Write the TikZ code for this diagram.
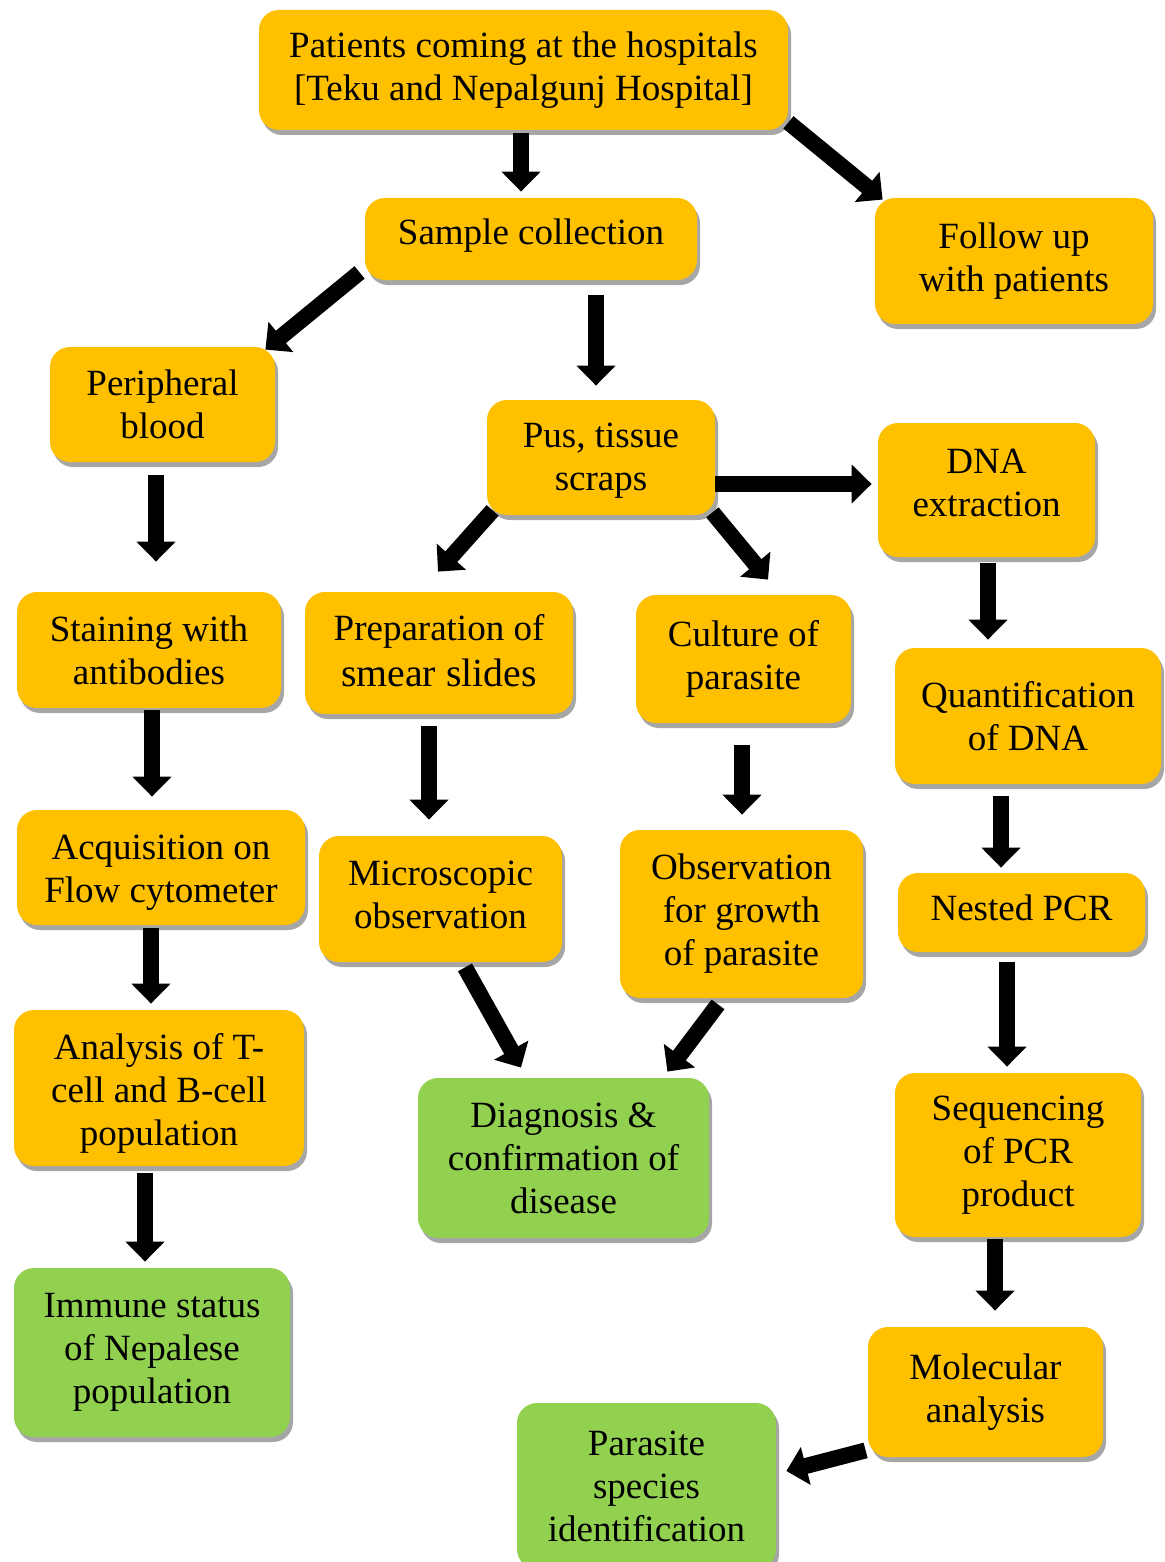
\documentclass[tikz,border=0pt]{standalone}
\usepackage{fontspec}
\setmainfont{Liberation Serif}
\usetikzlibrary{arrows.meta,shadows}
\definecolor{boxorange}{HTML}{FFC000}
\definecolor{boxgreen}{HTML}{92D050}
\definecolor{shadowgray}{HTML}{A6A6A6}
\newcommand\tup[1]{\rule[-#1]{0pt}{#1}}
\newcommand\tdown[1]{\rule{0pt}{#1}}
\tikzset{
  box/.style 2 args={rounded corners=10pt, inner sep=0pt, align=center,
    minimum width=#1*0.5pt, minimum height=#2*0.5pt,
    font=\fontsize{18.5}{21.5}\selectfont,
    drop shadow={shadow xshift=1.5pt, shadow yshift=-2.5pt, fill=shadowgray, opacity=1}},
  obox/.style 2 args={box={#1}{#2}, fill=boxorange},
  gbox/.style 2 args={box={#1}{#2}, fill=boxgreen},
  arr/.style={line width=8pt, -{Triangle[length=10pt,width=19pt]}}
}
\begin{document}
\begin{tikzpicture}[x=0.5pt,y=-0.5pt]
\useasboundingbox (0,0) rectangle (1164,1562);
\node[obox={529}{120}] (top) at (523.5,70) {Patients coming at the hospitals\\{}[Teku and Nepalgunj Hospital]};
\node[obox={332}{82}] (sample) at (531,239) {Sample collection\tup{7pt}};
\node[obox={278}{126}] (follow) at (1014,261) {Follow up\\with patients};
\node[obox={225}{115}] (periph) at (162.5,404.5) {Peripheral\\blood};
\node[obox={228}{115}] (pus) at (601,457.5) {\tdown{15.5pt}Pus, tissue\\scraps};
\node[obox={217}{134}] (dna) at (986.5,490) {DNA\\extraction\tup{7pt}};
\node[obox={264}{116}] (stain) at (149,650) {Staining with\\antibodies};
\node[obox={268}{122}] (smear) at (439,653) {Preparation of\\[1.5pt]{\fontsize{19.9}{21.5}\selectfont smear slides}\tup{3pt}};
\node[obox={215}{128}] (culture) at (743.5,659) {Culture of\\parasite};
\node[obox={266}{136}] (quant) at (1028,716) {Quantification\\of DNA};
\node[obox={288}{115}] (acq) at (161,867.5) {\tdown{17.2pt}Acquisition on\\Flow cytometer};
\node[obox={243}{126}] (micro) at (440.5,899) {Microscopic\\observation\tup{4pt}};
\node[obox={243}{168}] (obs) at (741.5,914) {Observation\\for growth\\of parasite};
\node[obox={247}{79}] (nested) at (1021.5,912.5) {Nested PCR\tup{5pt}};
\node[obox={290}{156}] (analysis) at (159,1088) {\tdown{18pt}Analysis of T-\\cell and B-cell\\population};
\node[gbox={291}{160}] (diag) at (563.5,1158) {Diagnosis \&\\confirmation of\\disease};
\node[obox={246}{164}] (seq) at (1018,1155) {Sequencing\\of PCR\\product};
\node[gbox={276}{169}] (immune) at (152,1352.5) {Immune status\\of Nepalese\\population};
\node[obox={235}{130}] (molec) at (985.5,1392) {Molecular\\analysis\tup{4pt}};
\node[gbox={259}{166}] (parasite) at (646.5,1486) {Parasite\\species\\identification};

\draw[arr] ([shift={(-2.5,3)}]top.south) -- ([shift={(-10,-6)}]sample.north);
\draw[arr] ([shift={(0,-8)}]top.south east) -- ([shift={(8,2)}]follow.north west);
\draw[arr] ([shift={(-5,-8)}]sample.south west) -- ([shift={(-10,3)}]periph.north east);
\draw[arr] ([shift={(65,15)}]sample.south) -- ([shift={(-5,-14)}]pus.north);
\draw[arr] ([shift={(0,26.5)}]pus.east) -- ([shift={(-6,-6)}]dna.west);
\draw[arr] ([shift={(6,-5)}]pus.south west) -- ([shift={(-1,-20)}]smear.north);
\draw[arr] ([shift={(-3,-3)}]pus.south east) -- ([shift={(24.5,-15)}]culture.north);
\draw[arr] ([shift={(-6.5,13)}]periph.south) -- ([shift={(7,-30)}]stain.north);
\draw[arr] ([shift={(3,2)}]stain.south) -- ([shift={(-9,-13)}]acq.north);
\draw[arr] ([shift={(-10,3)}]acq.south) -- ([shift={(-8,-6)}]analysis.north);
\draw[arr] ([shift={(-14,7)}]analysis.south) -- ([shift={(-7,-6)}]immune.north);
\draw[arr] ([shift={(-10,12)}]smear.south) -- ([shift={(-11.5,-16)}]micro.north);
\draw[arr] ([shift={(-1.5,22)}]culture.south) -- ([shift={(0.5,-15)}]obs.north);
\draw[arr] ([shift={(24.5,5)}]micro.south) -- ([shift={(-42.5,-10)}]diag.north);
\draw[arr] ([shift={(-23.5,6)}]obs.south) -- ([shift={(-42,-6)}]diag.north east);
\draw[arr] ([shift={(1.5,6)}]dna.south) -- ([shift={(-40,-8)}]quant.north);
\draw[arr] ([shift={(-27,12)}]quant.south) -- ([shift={(-20.5,-5)}]nested.north);
\draw[arr] ([shift={(-14.5,10)}]nested.south) -- ([shift={(-11,-6)}]seq.north);
\draw[arr] ([shift={(-23,2)}]seq.south) -- ([shift={(9.5,-16)}]molec.north);
\draw[arr] ([shift={(-2,-7)}]molec.south west) -- ([shift={(10,-15)}]parasite.east);
\end{tikzpicture}
\end{document}
